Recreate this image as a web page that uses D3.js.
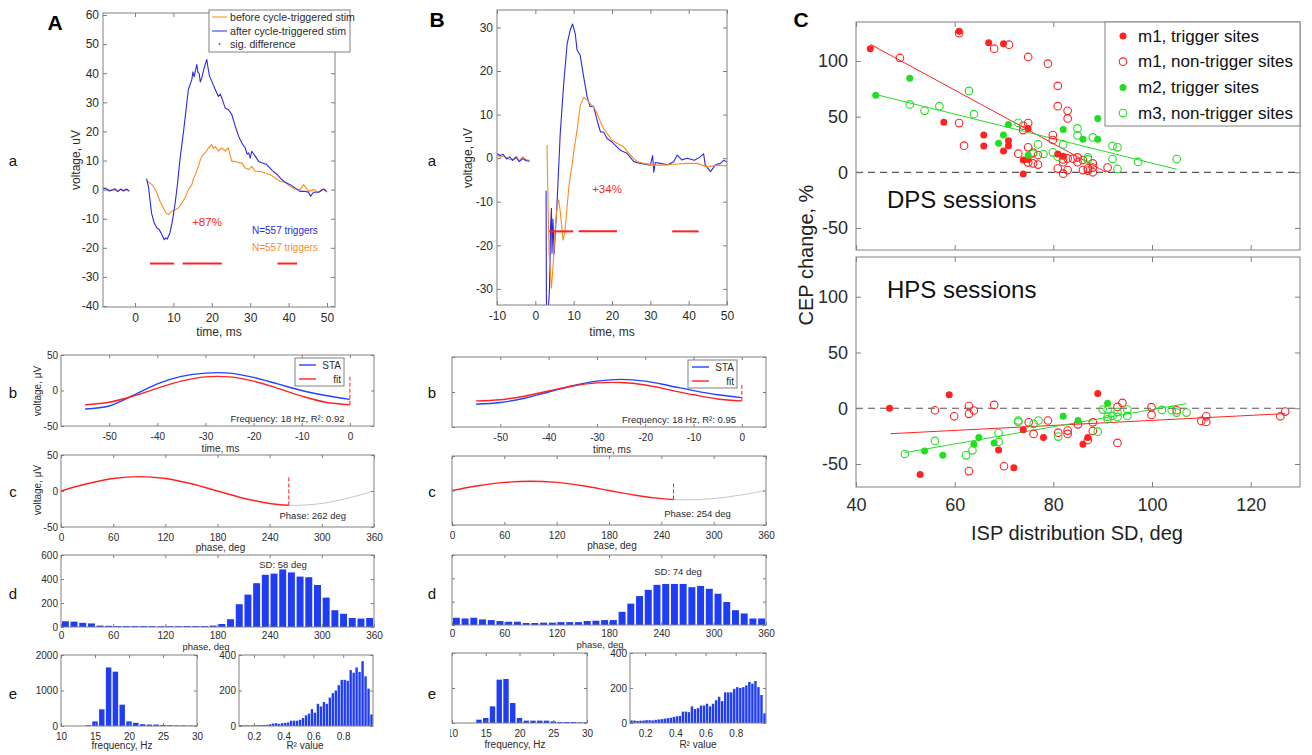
<!DOCTYPE html>
<html><head><meta charset="utf-8">
<script src="https://cdn.jsdelivr.net/npm/d3@7"></script>
<style>body{margin:0;background:#fff}</style>
</head><body>
<script>
// ---------- panel A(a) : CEP traces ----------
const aPreT      = [-8.3, -7.5, -6.7, -6.0, -5.2, -4.5, -3.7, -3.0, -2.2, -1.5];
const aPreAfter  = [0.6, 0.2, -0.5, -0.2, 0.3, -0.7, 0.1, -0.5, 0.2, -0.6];
const aPreBefore = [0.3, 0.5, -0.3, 0.1, -0.3, -0.4, 0.2, -0.2, 0.0, -0.3];
const aAfter = [[3.0,3.8],[3.5,1.1],[3.9,-3.4],[4.3,-8],[5.0,-11.5],[5.7,-13.2],[6.3,-13.7],[7.0,-15.5],[7.6,-17.2],
  [8.0,-16.6],[8.4,-17],[9.1,-14.9],[9.8,-10.3],[10.4,-5.2],[11.0,1.1],[11.7,10.3],[12.6,19.5],[13.3,27.5],[13.9,34.4],
  [14.8,37.8],[15.1,40.5],[15.4,38.8],[16.1,43],[16.4,40.2],[16.7,40],[17.0,37],[17.4,38.4],[18.0,41.8],[18.7,44.7],[19.0,42],
  [19.4,39],[20.0,37.2],[20.9,34.4],[21.7,32],[22.2,32.8],[22.6,31.5],[23.5,28],[24.3,27.5],[25.2,25.8],[26.1,21.8],
  [27.0,18.3],[27.8,16],[28.7,14.3],[29.2,12.2],[29.6,12.6],[30.0,10.8],[30.4,13.2],[31.3,11.5],[32.2,9.7],[33.0,9.2],
  [34.3,8.6],[35.7,6.6],[37.0,5.2],[37.8,4],[39.1,2.5],[40.4,1.7],[41.7,0.6],[43.0,-0.6],[44.3,-0.6],[45.2,-0.9],[45.7,-2.3],
  [46.5,-0.9],[47.8,-0.9],[49.1,0.2],[50.0,-0.6]];
const aBefore = [[3.0,2.9],[3.9,2.3],[4.8,1.1],[5.7,-1.1],[6.5,-4],[7.4,-6.3],[8.1,-8],[8.7,-8.6],[9.6,-7.4],[10.4,-6.9],
  [11.3,-6.3],[12.2,-4.6],[13.0,-2.9],[13.9,0],[14.8,1.7],[15.2,3.6],[15.7,5.2],[16.5,8],[17.0,10.2],[17.4,11.5],[18.3,12.6],
  [19.1,14.3],[20.0,15.5],[20.4,14.1],[20.9,14.9],[21.7,13.2],[22.6,14.3],[23.5,13.2],[24.3,14.3],[25.2,9.7],[26.1,9.7],
  [27.0,9.2],[27.8,9.2],[28.7,7.4],[29.6,6.9],[30.4,8],[31.3,6.3],[32.6,6.3],[33.9,5.7],[35.2,5.2],[36.5,4],[37.8,2.9],
  [39.1,2.5],[40.4,1.1],[41.7,0.2],[43.0,0],[43.9,1.7],[45.2,-0.6],[46.5,0],[47.8,-0.9],[49.1,0],[50.0,-0.9]];
const aSig = [[3.9,10.2],[12.4,22.6],[37.1,42.2]];
const aSigLevel = -25.4;

// ---------- panel B(a) ----------
const bPreT      = [-10, -9.2, -8.4, -7.5, -6.7, -5.9, -5.0, -4.2, -3.3, -2.4, -1.5];
const bPreAfter  = [1.1, 0.6, 0.9, -0.2, 0.3, -0.5, 0.2, -0.8, -0.1, -0.6, -0.7];
const bPreBefore = [0.8, 0.2, 0.5, 0.1, -0.3, -0.4, 0.4, -0.6, 0.3, -0.4, -0.5];
const bAfter = [[2.8,-7.5],[2.9,-36],[3.3,-36],[3.7,-30],[4.0,-15],[4.2,-11.5],[4.35,-21.8],[4.6,-14],[4.9,-22],
  [5.7,-9.6],[6.5,5.7],[7.4,17.1],[8.3,26.3],[9.1,29.4],[9.7,30.8],[10.4,28.6],[10.9,24.8],[11.7,23.6],[12.6,18.7],
  [13.5,14.1],[14.3,11.8],[15.2,11.9],[15.6,10.5],[16.1,8.7],[17.0,6.0],[17.8,6.0],[18.7,4.5],[20.0,3.7],[21.3,2.6],
  [22.2,1.8],[23.9,1.1],[25.7,-0.8],[27.4,-1.2],[30.0,-1.6],[30.6,0.6],[30.9,-3.2],[31.3,-1.0],[32.6,-1.2],[34.5,-1.5],
  [36.1,-0.8],[37.0,0.7],[38.2,-0.4],[39.6,0],[41.5,-0.5],[43.0,0.3],[43.9,1.0],[44.3,-1.5],[45.7,-3.1],[47.0,-1.5],
  [48.3,-1.2],[49.1,-0.5],[50.0,-0.9]];
const bBefore = [[3.05,3],[3.3,-10],[3.6,-22],[4.2,-29.8],[4.6,-25],[5.2,-16],[5.7,-11],[6.1,-9.6],[6.6,-13],[7.2,-18.8],
  [7.7,-17],[8.2,-12],[8.8,-6],[9.5,-2],[10.2,2.5],[10.9,6.5],[11.7,12],[12.6,13.9],[13.5,13.4],[14.3,12.5],[15.2,11.8],
  [16.1,10.3],[17.0,8.3],[17.8,6.8],[18.7,5.7],[20.0,4.1],[21.3,3.4],[23.0,2.6],[24.8,0.7],[26.5,-0.8],[28.3,-1.2],
  [30.9,-1.6],[33.5,-1.6],[36.1,-1.4],[39.6,-1.2],[42.2,-1.2],[44.8,-2],[47.4,-1.6],[50.0,-1.8]];
const bSig = [[3.6,9.9],[11.3,21.3],[35.7,42.6]];
const bSigLevel = -16.8;

// ---------- b/c panels: STA, fit, phase ----------
const staT   = [-55, -50, -45, -40, -35, -30, -25, -20, -15, -10, -5, 0];
const aSTA   = [-26, -21.8, -7, 9.3, 19.9, 24.5, 24.5, 18.5, 9.3, 0, -7, -12.5];
const aFit   = [-20, -16.5, -7.9, 3.1, 13.2, 19.2, 19.2, 13.2, 3.1, -7.9, -16.5, -20];
const bSTA   = [-17.5, -15, -9, 0, 9, 15.5, 18, 15.5, 9, 2, -4, -8];
const bFit   = [-12.7, -11, -6, 1.5, 8.5, 13, 13.5, 10, 3, -4, -10, -12.7];
const aStimMark = [-20, 20];
const bStimMark = [-12.7, 13];
const aPhaseFit  = [[0,0],[30,10],[60,17.3],[90,20],[120,17.3],[150,10],[180,0],[210,-10],[240,-17.3],[262,-19.8]];
const aPhaseRest = [[262,-19.8],[270,-20],[300,-17.3],[330,-10],[360,0]];
const bPhaseFit  = [[0,0],[30,6.8],[60,11.7],[90,13.5],[120,11.7],[150,6.8],[180,0],[210,-6.8],[240,-11.7],[254,-13]];
const bPhaseRest = [[254,-13],[270,-13.5],[300,-11.7],[330,-6.8],[360,0]];
const aPhaseMark = [262, -20, 20];
const bPhaseMark = [254, -13, 13];

// ---------- histograms ----------
const phaseBins = [5,15,25,35,45,55,65,75,85,95,105,115,125,135,145,155,165,175,185,195,205,215,225,235,245,255,265,275,285,295,305,315,325,335,345,355];
const aPhaseCounts = [48,45,35,30,12,10,8,8,8,8,7,7,7,7,8,8,8,12,25,65,190,270,365,435,445,480,455,420,415,350,245,140,110,75,70,75];
const bPhaseCounts = [62,56,62,48,42,34,28,28,17,17,20,20,25,25,25,34,37,42,42,113,183,248,301,344,352,352,352,324,335,310,268,197,127,99,56,56];
const freqBins = [11,12,13,14,15,16,17,18,19,20,21,22,23,24,25,26,27,28,29,30];
const aFreqCounts = [0,0,0,20,130,470,1650,1530,600,130,90,50,40,40,30,20,15,15,10,10];
const bFreqCounts = [0,0,0,95,143,476,1238,1257,571,143,67,67,67,67,48,29,29,29,19,19];
const r2Bins = [0.11,0.13,0.15,0.17,0.19,0.21,0.23,0.25,0.27,0.29,0.31,0.33,0.35,0.37,0.39,0.41,0.43,0.45,0.47,0.49,0.51,0.53,0.55,0.57,0.59,0.61,0.63,0.65,0.67,0.69,0.71,0.73,0.75,0.77,0.79,0.81,0.83,0.85,0.87,0.89,0.91,0.93,0.95,0.97,0.99];
const aR2Counts = [5,4,4,3,4,4,5,5,6,7,10,14,16,12,16,18,20,30,30,30,35,45,60,70,95,75,125,110,135,125,160,185,200,230,260,260,255,315,300,330,305,365,280,210,65];
const bR2Counts = [15,14,12,13,14,16,16,15,18,20,22,25,28,30,35,38,40,65,65,62,95,80,85,100,100,110,95,110,130,150,125,175,175,175,195,205,200,205,215,235,225,240,205,160,55];

// ---------- panel C ----------
const dpsM1Trig = [[42.9,111],[60.9,126.6],[66.9,116.4],[69.9,115.5],[57.8,45],[65.9,33.4],[65.9,23.6],[70.9,28.4],[70.9,23.9],[69.9,19.1],[74.9,39.4],[73.9,11],[74.9,11.6],[73.9,-1.5],[80.9,16.4],[82,14.3]];
const dpsM1Non = [[48.9,102.7],[60.9,125],[68,111],[71,114.6],[74.9,103.6],[78.9,97.6],[80.9,77.6],[80.9,59.4],[82.9,55.2],[82.9,48.4],[60.9,44.2],[61.9,23.9],[73.9,41.8],[73.9,37.9],[74.9,44.2],[74.9,22.4],[72.9,16.7],[74.9,8.7],[75.9,17.6],[75.9,8],[76.9,15.5],[76.9,6.9],[79.9,33.4],[79.9,29],[82,11.6],[82,9],[82.9,12.5],[84,12.2],[84.9,13.4],[84.9,9],[86,11],[86,2],[80.9,3.3],[82,-1.2],[82.9,2],[87,3.6],[87,1.5],[88,8],[88,4.2],[88,0],[91,4.2]];
const dpsM2Trig = [[44,69.3],[50.9,84.5],[70.9,43],[69.9,33.4],[68.9,26],[74.9,15.2],[82,38.5],[86,29.6],[89,48.4],[89,29.6]];
const dpsM3Non = [[50.9,61],[53.9,55.2],[56.9,59.4],[62.9,73.1],[63.9,52.2],[72.9,44.5],[76.9,25],[75.9,16.7],[78,16.4],[79.9,17.9],[80.9,14],[82,25],[84.9,39.4],[84.9,33.1],[88,31.3],[87,13.4],[87,11.6],[92,23.6],[93,22.4],[92,11.9],[93,3],[97.2,9.3],[105,11.9]];
const dpsFitRed = [[42.9,115],[90.7,0]];
const dpsFitGreen = [[44,69.9],[105,2.7]];

const hpsM1Trig = [[46.8,0],[58.9,12],[53,-59.3],[68.9,-37.4],[72,-53.3],[73.9,-19.2],[78,-26.3],[86,-32.3],[87,-26.3],[89,13.2]];
const hpsM1Non = [[56,-1.8],[59.9,-7.2],[62.9,2],[62.9,-5],[63.9,-2],[62.9,-56.3],[68,3],[70,-52],[75,-12.6],[76,-23],[78.9,-11],[81,-21.9],[82.9,-20],[82.9,-23],[85,-14.4],[87,-28.4],[88,-12.6],[88,-20.4],[93,1.2],[94,4.8],[93,-31.1],[99.9,1],[99.9,-6],[105,-1.8],[110,-11.4],[111,-7.2],[111,-12.3],[126,-7.2],[127,-3]];
const hpsM2Trig = [[53.9,-38.3],[57.6,-42.2],[63.9,-32.3],[64.9,-26.3],[68,-31.1],[82,-7.2],[85,-11],[91,4.5]];
const hpsM3Non = [[49.9,-41],[56,-29.3],[62.3,-42.2],[63.6,-37.7],[68.9,-22.2],[68.9,-30.2],[72.9,-11],[72.9,-12.3],[76,-14],[77,-11],[81,-25.4],[89,-21],[90,-1.2],[91,-1.2],[91,-7.8],[91,-9.9],[92,-6.9],[93,-3.3],[93,-7.8],[95,-1.2],[95,-6.9],[102,-1.5],[104,-1.8],[105,-3.9],[107,-3.9]];
const hpsFitRed = [[47,-22.8],[127,-4.8]];
const hpsFitGreen = [[49.9,-39.8],[107,4.2]];

const cLegend = ["m1, trigger sites", "m1, non-trigger sites", "m2, trigger sites", "m3, non-trigger sites"];

// ---------- drawing ----------
const FONT = "'Liberation Sans', Arial, Helvetica, sans-serif";
const BLUE = "#2b2be0", ORANGE = "#ff8a1f", RED = "#ff2222", GREEN = "#22dd22", BAR = "#1f3df5";
const AX = "#808080", TXT = "#2b2b2b";

const svg = d3.select("body").append("svg")
    .attr("width", 1312).attr("height", 755)
    .style("font-family", FONT);
const defs = svg.append("defs");
let clipN = 0;

// the B column of the original is cropped at its left edge
defs.append("clipPath").attr("id", "colB").append("rect")
    .attr("x", 450).attr("y", 340).attr("width", 340).attr("height", 415);

function frame(o) {
    const x = d3.scaleLinear().domain(o.xd).range([o.l, o.r]);
    const y = d3.scaleLinear().domain(o.yd).range([o.b, o.t]);
    const tl = o.tl || 3, fs = o.fs || 10;
    const fmt = d => String(d);
    const style = s => {
        s.select(".domain").remove();
        s.selectAll(".tick line").attr("stroke", AX);
        s.selectAll("text").attr("fill", TXT).style("font-size", fs + "px").style("font-family", FONT);
    };
    const g = svg.append("g");
    if (o.cropB) g.attr("clip-path", "url(#colB)");
    const id = "clip" + (clipN++);
    defs.append("clipPath").attr("id", id).append("rect")
        .attr("x", o.l).attr("y", o.t).attr("width", o.r - o.l).attr("height", o.b - o.t);
    const plot = g.append("g").attr("clip-path", `url(#${id})`);
    g.append("g").attr("transform", `translate(0,${o.b})`)
        .call(d3.axisBottom(x).tickValues(o.xt).tickSizeInner(-tl).tickSizeOuter(0).tickPadding(o.xpad || 7)
            .tickFormat(o.noX ? () => "" : fmt)).call(style);
    g.append("g").attr("transform", `translate(0,${o.t})`)
        .call(d3.axisTop(x).tickValues(o.xt).tickSizeInner(-tl).tickSizeOuter(0).tickFormat(() => "")).call(style);
    g.append("g").attr("transform", `translate(${o.l},0)`)
        .call(d3.axisLeft(y).tickValues(o.yt).tickSizeInner(-tl).tickSizeOuter(0).tickPadding(o.ypad || 3)
            .tickFormat(o.noY ? () => "" : fmt)).call(style);
    g.append("g").attr("transform", `translate(${o.r},0)`)
        .call(d3.axisRight(y).tickValues(o.yt).tickSizeInner(-tl).tickSizeOuter(0).tickFormat(() => "")).call(style);
    g.append("rect").attr("x", o.l).attr("y", o.t).attr("width", o.r - o.l).attr("height", o.b - o.t)
        .attr("fill", "none").attr("stroke", AX).attr("stroke-width", 1);
    return {g, plot, x, y};
}

function txt(x, y, s, size, opt) {
    opt = opt || {};
    const t = svg.append("text").attr("x", x).attr("y", y).text(s)
        .style("font-size", size + "px").attr("fill", opt.fill || TXT)
        .attr("text-anchor", opt.anchor || "middle")
        .attr("dominant-baseline", "central");
    if (opt.bold) t.style("font-weight", "bold");
    if (opt.rot) t.attr("transform", `rotate(-90,${x},${y})`);
    return t;
}

const lineOf = (F, curve) => d3.line().x(d => F.x(d[0])).y(d => F.y(d[1])).curve(curve || d3.curveLinear);

function trace(F, data, color, w) {
    F.plot.append("path").datum(data).attr("d", lineOf(F)).attr("fill", "none")
        .attr("stroke", color).attr("stroke-width", w || 1.1).attr("stroke-linejoin", "round");
}

function sigBars(F, segs, level) {
    F.plot.selectAll(null).data(segs).enter().append("line")
        .attr("x1", d => F.x(d[0])).attr("x2", d => F.x(d[1]))
        .attr("y1", F.y(level)).attr("y2", F.y(level))
        .attr("stroke", RED).attr("stroke-width", 2);
}

function bars(F, centers, counts, w) {
    F.plot.selectAll(null).data(centers).enter().append("rect")
        .attr("x", d => F.x(d - w / 2)).attr("width", F.x(w) - F.x(0))
        .attr("y", (d, i) => F.y(counts[i])).attr("height", (d, i) => F.y(0) - F.y(counts[i]))
        .attr("fill", BAR);
}

// ---- A(a)
const Aa = frame({l: 103, r: 335, t: 13, b: 307, xd: [-8.33, 52.08], yd: [-40.34, 60.69],
    xt: [0, 10, 20, 30, 40, 50], yt: [-40, -30, -20, -10, 0, 10, 20, 30, 40, 50, 60], fs: 12, xpad: 6, ypad: 4, tl: 4});
trace(Aa, aPreT.map((t, i) => [t, aPreBefore[i]]), ORANGE);
trace(Aa, aPreT.map((t, i) => [t, aPreAfter[i]]), BLUE);
trace(Aa, aBefore, ORANGE);
trace(Aa, aAfter, BLUE);
sigBars(Aa, aSig, aSigLevel);
txt(207, 222, "+87%", 11.5, {fill: RED});
txt(252, 230, "N=557 triggers", 10, {fill: BLUE, anchor: "start"});
txt(252, 247, "N=557 triggers", 10, {fill: ORANGE, anchor: "start"});
svg.append("rect").attr("x", 209).attr("y", 10).attr("width", 141).attr("height", 42)
    .attr("fill", "#fff").attr("stroke", AX);
svg.append("line").attr("x1", 212).attr("x2", 227).attr("y1", 17).attr("y2", 17).attr("stroke", ORANGE);
svg.append("line").attr("x1", 212).attr("x2", 227).attr("y1", 31).attr("y2", 31).attr("stroke", BLUE);
svg.append("circle").attr("cx", 219.5).attr("cy", 44).attr("r", 0.9).attr("fill", RED);
txt(230, 17, "before cycle-triggered stim", 10.6, {anchor: "start"});
txt(230, 31, "after cycle-triggered stim", 10.6, {anchor: "start"});
txt(230, 44, "sig. difference", 10.6, {anchor: "start"});
txt(76, 160, "voltage, uV", 12, {rot: true});
txt(219, 332, "time, ms", 12);

// ---- B(a)
const Ba = frame({l: 497, r: 727, t: 10, b: 305, xd: [-10, 50], yd: [-33.7, 34],
    xt: [-10, 0, 10, 20, 30, 40, 50], yt: [-30, -20, -10, 0, 10, 20, 30], fs: 12, xpad: 6, ypad: 4, tl: 4});
trace(Ba, bPreT.map((t, i) => [t, bPreBefore[i]]), ORANGE);
trace(Ba, bPreT.map((t, i) => [t, bPreAfter[i]]), BLUE);
trace(Ba, bAfter, BLUE);
trace(Ba, bBefore, ORANGE);
sigBars(Ba, bSig, bSigLevel);
txt(607, 189, "+34%", 11.5, {fill: RED});
txt(468, 158, "voltage, uV", 12, {rot: true});
txt(612, 332, "time, ms", 12);

// ---- b panels
function staPanel(l, r, t, b, sta, fit, mark, showY, lg, label, cropB) {
    const F = frame({l, r, t, b, xd: [-60, 5], yd: [-50, 50], xt: [-50, -40, -30, -20, -10, 0], yt: [-50, 0, 50], noY: !showY, cropB});
    const smooth = d3.curveCatmullRom;
    F.plot.append("path").datum(staT.map((s, i) => [s, sta[i]])).attr("d", lineOf(F, smooth))
        .attr("fill", "none").attr("stroke", "#2244ff").attr("stroke-width", 1.4);
    F.plot.append("path").datum(staT.map((s, i) => [s, fit[i]])).attr("d", lineOf(F, smooth))
        .attr("fill", "none").attr("stroke", RED).attr("stroke-width", 1.4);
    F.plot.append("line").attr("x1", F.x(0)).attr("x2", F.x(0)).attr("y1", F.y(mark[0])).attr("y2", F.y(mark[1]))
        .attr("stroke", RED).attr("stroke-dasharray", "4,2");
    svg.append("rect").attr("x", lg).attr("y", t + 3).attr("width", 49).attr("height", 28).attr("fill", "#fff").attr("stroke", AX);
    svg.append("line").attr("x1", lg + 4).attr("x2", lg + 21).attr("y1", t + 10).attr("y2", t + 10).attr("stroke", "#2244ff").attr("stroke-width", 1.4);
    svg.append("line").attr("x1", lg + 4).attr("x2", lg + 21).attr("y1", t + 24).attr("y2", t + 24).attr("stroke", RED).attr("stroke-width", 1.4);
    txt(lg + 46, t + 10, "STA", 10, {anchor: "end"});
    txt(lg + 46, t + 24, "fit", 10, {anchor: "end"});
    txt((l + r) / 2 + 70, b - 8, label, 9.5);
    txt((l + r) / 2 + 3, b + 22, "time, ms", 10);
    return F;
}
staPanel(61, 374, 355, 426, aSTA, aFit, aStimMark, true, 295, "Frequency: 18 Hz, R²: 0.92", false);
staPanel(452, 766, 357, 427, bSTA, bFit, bStimMark, false, 688, "Frequency: 18 Hz, R²: 0.95", true);
txt(37, 391, "voltage, μV", 10, {rot: true});

// ---- c panels
function phasePanel(l, r, t, b, fitPts, restPts, mark, showY, label, cropB) {
    const F = frame({l, r, t, b, xd: [0, 360], yd: [-50, 50], xt: [0, 60, 120, 180, 240, 300, 360], yt: [-50, 0, 50], noY: !showY, cropB});
    F.plot.append("path").datum(restPts).attr("d", lineOf(F, d3.curveCatmullRom)).attr("fill", "none").attr("stroke", "#c4c4c4").attr("stroke-width", 1);
    F.plot.append("path").datum(fitPts).attr("d", lineOf(F, d3.curveCatmullRom)).attr("fill", "none").attr("stroke", RED).attr("stroke-width", 1.4);
    F.plot.append("line").attr("x1", F.x(mark[0])).attr("x2", F.x(mark[0])).attr("y1", F.y(mark[1])).attr("y2", F.y(mark[2]))
        .attr("stroke", RED).attr("stroke-dasharray", "4,2");
    txt(F.x(mark[0]) + 24, b - 12, label, 9.5);
    txt((l + r) / 2 + 3, b + 20, "phase, deg", 10);
    return F;
}
phasePanel(61, 374, 455, 527, aPhaseFit, aPhaseRest, aPhaseMark, true, "Phase: 262 deg", false);
phasePanel(452, 766, 456, 525, bPhaseFit, bPhaseRest, bPhaseMark, false, "Phase: 254 deg", true);
txt(37, 490, "voltage, μV", 10, {rot: true});

// ---- d panels
const Ad = frame({l: 61, r: 374, t: 555, b: 627, xd: [0, 360], yd: [0, 600], xt: [0, 60, 120, 180, 240, 300, 360], yt: [0, 200, 400, 600], xpad: 5});
bars(Ad, phaseBins, aPhaseCounts, 8);
txt(283, 564, "SD: 58 deg", 9.5);
txt(206, 646, "phase, deg", 9.5);
const Bd = frame({l: 452, r: 766, t: 555, b: 625, xd: [0, 360], yd: [0, 600], xt: [0, 60, 120, 180, 240, 300, 360], yt: [0, 200, 400, 600], noY: true, cropB: true, xpad: 5});
bars(Bd, phaseBins, bPhaseCounts, 8);
txt(678, 571, "SD: 74 deg", 9.5);
txt(600, 644, "phase, deg", 9.5);

// ---- e panels
const Ae1 = frame({l: 61, r: 197, t: 655, b: 726, xd: [10, 30], yd: [0, 2000], xt: [10, 15, 20, 25, 30], yt: [0, 1000, 2000]});
bars(Ae1, freqBins, aFreqCounts, 0.8);
txt(122, 745, "frequency, Hz", 10);
const Ae2 = frame({l: 239, r: 373, t: 655, b: 726, xd: [0.1, 1.0], yd: [0, 400], xt: [0.2, 0.4, 0.6, 0.8], yt: [0, 200, 400]});
bars(Ae2, r2Bins, aR2Counts, 0.016);
txt(305, 745, "R² value", 10);
const Be1 = frame({l: 452, r: 587, t: 653, b: 723, xd: [10, 30], yd: [0, 2000], xt: [10, 15, 20, 25, 30], yt: [0, 1000, 2000], noY: true, cropB: true});
bars(Be1, freqBins, bFreqCounts, 0.8);
txt(515, 744, "frequency, Hz", 10);
const Be2 = frame({l: 630, r: 766, t: 653, b: 723, xd: [0.1, 1.0], yd: [0, 400], xt: [0.2, 0.4, 0.6, 0.8], yt: [0, 200, 400]});
bars(Be2, r2Bins, bR2Counts, 0.016);
txt(698, 744, "R² value", 10);

// ---- row letters & panel letters
[["a", 160], ["b", 392], ["c", 491], ["d", 593], ["e", 693]].forEach(([s, y]) => {
    txt(13, y, s, 15, {fill: "#111"});
    txt(432, y, s, 15, {fill: "#111"});
});
txt(55, 22, "A", 21, {bold: true, fill: "#000"});
txt(437, 19, "B", 21, {bold: true, fill: "#000"});
txt(801, 19, "C", 21, {bold: true, fill: "#000"});

// ---- C panels
function scatterPanel(t, b, yd, showX, sets, fits, title, titleY) {
    const F = frame({l: 856, r: 1300, t, b, xd: [40, 130], yd, xt: [40, 60, 80, 100, 120], yt: [-50, 0, 50, 100],
        fs: 18, noX: !showX, xpad: 11, ypad: 8, tl: 5});
    F.plot.append("line").attr("x1", F.x(40)).attr("x2", F.x(130)).attr("y1", F.y(0)).attr("y2", F.y(0))
        .attr("stroke", "#555").attr("stroke-width", 1.2).attr("stroke-dasharray", "7,5");
    fits.forEach(([pts, c]) => F.plot.append("path").datum(pts).attr("d", lineOf(F)).attr("stroke", c).attr("stroke-width", 1));
    sets.forEach(([pts, c, filled]) => {
        F.plot.selectAll(null).data(pts).enter().append("circle")
            .attr("cx", d => F.x(d[0])).attr("cy", d => F.y(d[1])).attr("r", filled ? 3.5 : 3.8)
            .attr("fill", filled ? c : "none").attr("stroke", c).attr("stroke-width", filled ? 0 : 1.1);
    });
    txt(887, titleY, title, 24, {anchor: "start", fill: "#111"});
    return F;
}
scatterPanel(22, 250, [-69.8, 135], false,
    [[dpsM1Non, RED, false], [dpsM3Non, GREEN, false], [dpsM1Trig, RED, true], [dpsM2Trig, GREEN, true]],
    [[dpsFitRed, RED], [dpsFitGreen, GREEN]], "DPS sessions", 199);
scatterPanel(257, 487, [-70.6, 135.6], true,
    [[hpsM1Non, RED, false], [hpsM3Non, GREEN, false], [hpsM1Trig, RED, true], [hpsM2Trig, GREEN, true]],
    [[hpsFitRed, RED], [hpsFitGreen, GREEN]], "HPS sessions", 289);
txt(1077, 533, "ISP distribution SD, deg", 20, {fill: "#222"});
txt(806, 255, "CEP change, %", 20, {rot: true, fill: "#222"});

// legend C
svg.append("rect").attr("x", 1105).attr("y", 22).attr("width", 195).attr("height", 104).attr("fill", "#fff").attr("stroke", AX);
const legStyle = [[RED, true], [RED, false], [GREEN, true], [GREEN, false]];
cLegend.forEach((s, i) => {
    const y = 36 + i * 25.7;
    svg.append("circle").attr("cx", 1123).attr("cy", y).attr("r", legStyle[i][1] ? 3.5 : 3.8)
        .attr("fill", legStyle[i][1] ? legStyle[i][0] : "none").attr("stroke", legStyle[i][0]).attr("stroke-width", legStyle[i][1] ? 0 : 1.1);
    txt(1138, y, s, 17, {anchor: "start", fill: "#111"});
});
</script>
</body></html>
